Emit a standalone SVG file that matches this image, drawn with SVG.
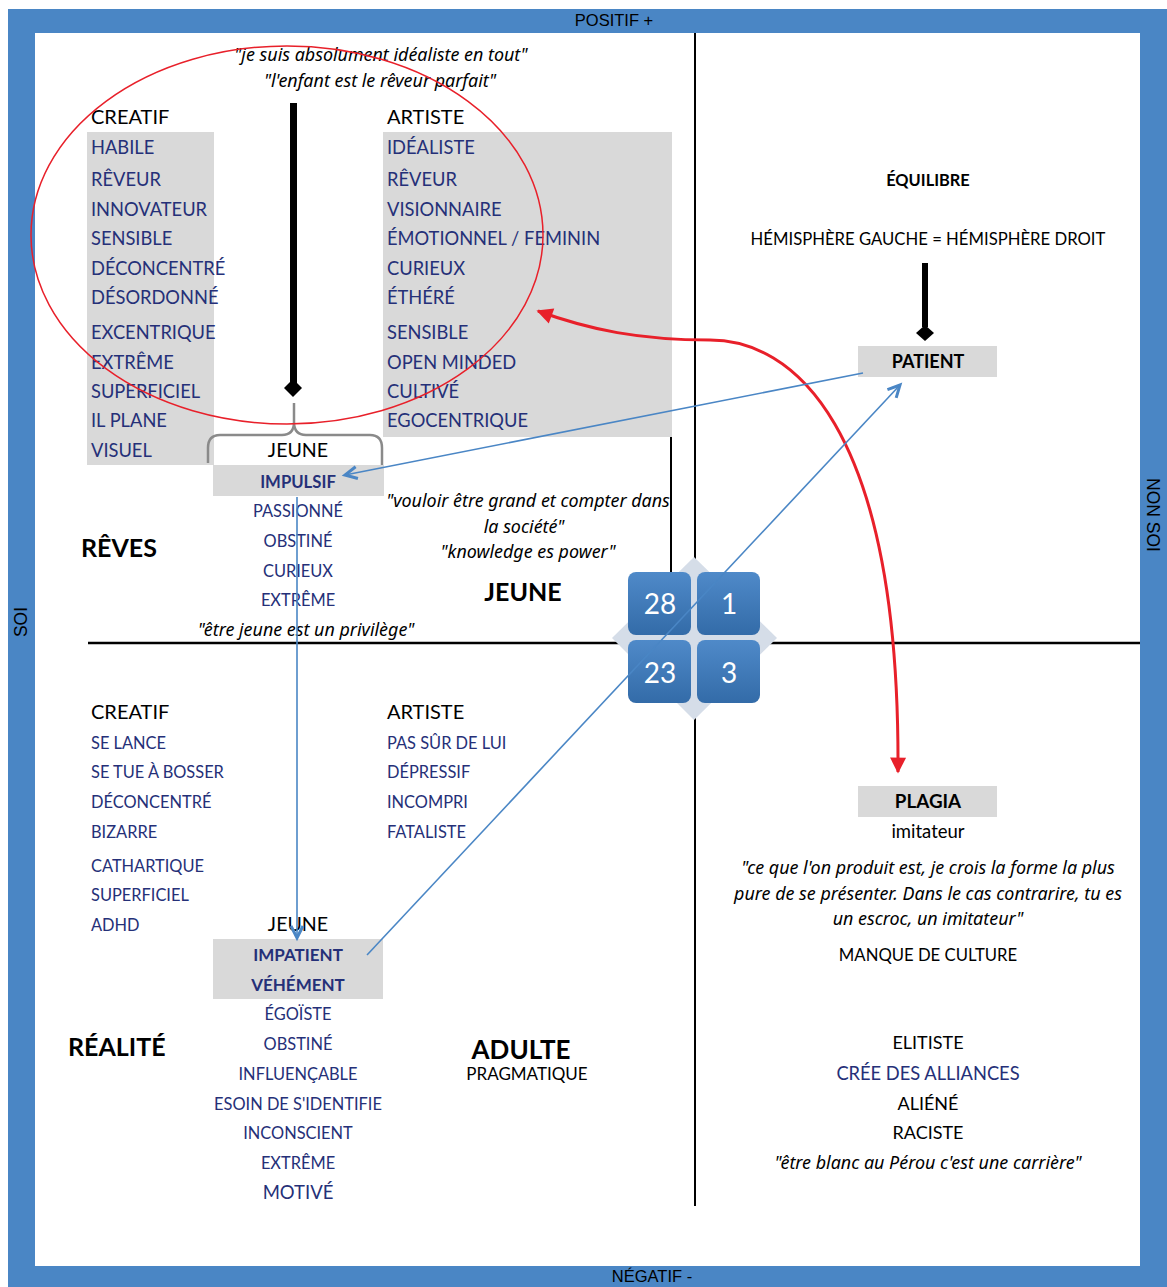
<svg xmlns="http://www.w3.org/2000/svg" width="1167" height="1287" viewBox="0 0 1167 1287">
<style>
text{font-family:Lato,"Open Sans",sans-serif}
.l{font-size:18.3px;fill:#253078}
.s{font-size:16.4px;fill:#253078}
.k{font-size:18px;fill:#000}
.h{font-size:20px;fill:#000}
.it{font-family:"Noto Sans","Open Sans",sans-serif;font-style:italic;font-size:17.9px;fill:#000}
.b{font-weight:bold}
.c{text-anchor:middle}
.big{font-size:25px;font-weight:bold;fill:#000}
.ax{font-family:"Liberation Sans",Arial,sans-serif;font-size:16.5px;fill:#000}
.gr{fill:#d9d9d9}
.tn{font-size:28px;fill:#fff;text-anchor:middle}
</style>
<defs>
<marker id="ab" viewBox="0 0 16 16" refX="14" refY="8" markerWidth="16" markerHeight="16" markerUnits="userSpaceOnUse" orient="auto" overflow="visible">
<path d="M2,2 L14,8 L2,14" fill="none" stroke="#4a86c5" stroke-width="3" stroke-linejoin="miter"/>
</marker>
<marker id="ar" viewBox="0 0 10 10" refX="9" refY="5" markerWidth="18" markerHeight="16" markerUnits="userSpaceOnUse" orient="auto-start-reverse" overflow="visible">
<path d="M0,0 L10,5 L0,10 Z" fill="#e8202a"/>
</marker>
<linearGradient id="tg" x1="0" y1="0" x2="0" y2="1">
<stop offset="0" stop-color="#4f8ac9"/>
<stop offset="1" stop-color="#336ba8"/>
</linearGradient>
</defs>

<g id="frame">
<rect x="8" y="9" width="1159" height="1278" fill="#4a86c5"/>
<rect x="35" y="33" width="1105" height="1233" fill="#fff"/>
<text class="ax c" x="614" y="26">POSITIF +</text>
<text class="ax c" x="652" y="1282">NÉGATIF -</text>
<text class="ax c" style="font-size:17.5px" transform="translate(27,622) rotate(-90)">SOI</text>
<text class="ax c" style="font-size:17.5px" transform="translate(1147,515) rotate(90)">NON SOI</text>
</g>

<g id="gray-boxes">
<rect class="gr" x="87" y="132" width="127" height="333"/>
<rect class="gr" x="383" y="132" width="289" height="305"/>
<rect class="gr" x="213" y="465" width="171" height="31"/>
<rect class="gr" x="858" y="346" width="139" height="31"/>
<rect class="gr" x="858" y="786" width="139" height="31"/>
<rect class="gr" x="213" y="939" width="170" height="60"/>
</g>

<g id="axes" stroke="#000">
<line x1="695" y1="33" x2="695" y2="1206" stroke-width="2"/>
<line x1="88" y1="643" x2="1140" y2="643" stroke-width="2.5"/>
<line x1="671" y1="437" x2="671" y2="575" stroke-width="2"/>
</g>

<g id="quote-top">
<text class="it c" x="381" y="61">"je suis absolument idéaliste en tout"</text>
<text class="it c" x="380" y="87">"l'enfant est le rêveur parfait"</text>
</g>

<g id="creatif-top">
<text class="h" x="91" y="124">CREATIF</text>
<text class="l" x="91" y="154">HABILE</text>
<text class="l" x="91" y="186">RÊVEUR</text>
<text class="l" x="91" y="216">INNOVATEUR</text>
<text class="l" x="91" y="245">SENSIBLE</text>
<text class="l" x="91" y="275">DÉCONCENTRÉ</text>
<text class="l" x="91" y="304">DÉSORDONNÉ</text>
<text class="l" x="91" y="339">EXCENTRIQUE</text>
<text class="l" x="91" y="369">EXTRÊME</text>
<text class="l" x="91" y="398">SUPERFICIEL</text>
<text class="l" x="91" y="427">IL PLANE</text>
<text class="l" x="91" y="457">VISUEL</text>
</g>

<g id="artiste-top">
<text class="h" x="387" y="124">ARTISTE</text>
<text class="l" x="387" y="154">IDÉALISTE</text>
<text class="l" x="387" y="186">RÊVEUR</text>
<text class="l" x="387" y="216">VISIONNAIRE</text>
<text class="l" x="387" y="245">ÉMOTIONNEL / FEMININ</text>
<text class="l" x="387" y="275">CURIEUX</text>
<text class="l" x="387" y="304">ÉTHÉRÉ</text>
<text class="l" x="387" y="339">SENSIBLE</text>
<text class="l" x="387" y="369">OPEN MINDED</text>
<text class="l" x="387" y="398">CULTIVÉ</text>
<text class="l" x="387" y="427">EGOCENTRIQUE</text>
</g>

<g id="jeune-top">
<path d="M294,403 L294,422 Q294,435 282,435 L220,435 Q208,435 208,448 L208,463 M294,422 Q294,435 306,435 L370,435 Q382,435 382,448 L382,465" fill="none" stroke="#8a8a8a" stroke-width="2.5"/>
<text class="k c" x="298" y="457" style="font-size:19.6px">JEUNE</text>
<text class="s b c" x="298" y="488" style="font-size:16.7px">IMPULSIF</text>
<text class="s c" x="298" y="517">PASSIONNÉ</text>
<text class="s c" x="298" y="547">OBSTINÉ</text>
<text class="s c" x="298" y="577">CURIEUX</text>
<text class="s c" x="298" y="606">EXTRÊME</text>
<text class="it c" x="306" y="636">"être jeune est un privilège"</text>
</g>

<g id="reves">
<text class="big" x="81" y="557">RÊVES</text>
</g>

<g id="jeune-quadrant">
<text class="it c" x="528" y="507">"vouloir être grand et compter dans</text>
<text class="it c" x="524" y="533">la société"</text>
<text class="it c" x="528" y="558">"knowledge es power"</text>
<text class="big c" x="523" y="601">JEUNE</text>
</g>

<g id="equilibre">
<text class="k b c" x="928" y="186" style="font-size:16.4px">ÉQUILIBRE</text>
<text class="k c" x="928" y="245" style="font-size:16.7px">HÉMISPHÈRE GAUCHE = HÉMISPHÈRE DROIT</text>
</g>

<g id="patient">
<text class="k b c" x="928" y="368">PATIENT</text>
</g>

<g id="plagia">
<text class="k b c" x="928" y="808" style="font-size:18.8px">PLAGIA</text>
<text class="k c" x="928" y="838" style="font-size:18.5px">imitateur</text>
<text class="it c" x="928" y="874">"ce que l'on produit est, je crois la forme la plus</text>
<text class="it c" x="928" y="900">pure de se présenter. Dans le cas contrarire, tu es</text>
<text class="it c" x="928" y="925">un escroc, un imitateur"</text>
<text class="k c" x="928" y="961" style="font-size:16.7px">MANQUE DE CULTURE</text>
</g>

<g id="elitiste">
<text class="k c" x="928" y="1049">ELITISTE</text>
<text class="l c" x="928" y="1080">CRÉE DES ALLIANCES</text>
<text class="k c" x="928" y="1110">ALIÉNÉ</text>
<text class="k c" x="928" y="1139">RACISTE</text>
<text class="it c" x="928" y="1169">"être blanc au Pérou c'est une carrière"</text>
</g>

<g id="creatif-bottom">
<text class="h" x="91" y="719">CREATIF</text>
<text class="s" x="91" y="749">SE LANCE</text>
<text class="s" x="91" y="778">SE TUE À BOSSER</text>
<text class="s" x="91" y="808">DÉCONCENTRÉ</text>
<text class="s" x="91" y="838">BIZARRE</text>
<text class="s" x="91" y="872">CATHARTIQUE</text>
<text class="s" x="91" y="901">SUPERFICIEL</text>
<text class="s" x="91" y="931">ADHD</text>
</g>

<g id="artiste-bottom">
<text class="h" x="387" y="719">ARTISTE</text>
<text class="s" x="387" y="749">PAS SÛR DE LUI</text>
<text class="s" x="387" y="778">DÉPRESSIF</text>
<text class="s" x="387" y="808">INCOMPRI</text>
<text class="s" x="387" y="838">FATALISTE</text>
</g>

<g id="jeune-bottom">
<text class="k c" x="298" y="931" style="font-size:19.6px">JEUNE</text>
<text class="s b c" x="298" y="961" style="font-size:17px">IMPATIENT</text>
<text class="s b c" x="298" y="991" style="font-size:17px">VÉHÉMENT</text>
<text class="s c" x="298" y="1020">ÉGOÏSTE</text>
<text class="s c" x="298" y="1050">OBSTINÉ</text>
<text class="s c" x="298" y="1080">INFLUENÇABLE</text>
<text class="s c" x="298" y="1110">ESOIN DE S'IDENTIFIE</text>
<text class="s c" x="298" y="1139">INCONSCIENT</text>
<text class="s c" x="298" y="1169">EXTRÊME</text>
<text class="s c" x="298" y="1199" style="font-size:18.5px">MOTIVÉ</text>
</g>

<g id="realite">
<text class="big" x="68" y="1056">RÉALITÉ</text>
</g>

<g id="adulte">
<text class="big c" x="521" y="1059" style="font-size:26px">ADULTE</text>
<text class="k c" x="527" y="1080" style="font-size:17px">PRAGMATIQUE</text>
</g>

<g id="tiles">
<polygon points="694,557 777,638 694,720 612,638" fill="#d5dde8"/>
<rect x="628" y="572" width="63" height="63" rx="8" fill="url(#tg)"/>
<rect x="697" y="572" width="63" height="63" rx="8" fill="url(#tg)"/>
<rect x="628" y="640" width="63" height="63" rx="8" fill="url(#tg)"/>
<rect x="697" y="640" width="63" height="63" rx="8" fill="url(#tg)"/>
<text class="tn" x="660" y="614">28</text>
<text class="tn" x="729" y="614">1</text>
<text class="tn" x="660" y="683">23</text>
<text class="tn" x="729" y="683">3</text>
</g>

<g id="connectors">
<ellipse cx="287" cy="235" rx="256" ry="189" fill="none" stroke="#e8202a" stroke-width="1.5"/>
<rect x="290" y="103" width="7" height="280" fill="#000"/>
<polygon points="293,379 302,388 293,397 284,388" fill="#000"/>
<rect x="922" y="263" width="6" height="64" fill="#000"/>
<polygon points="925,325 934,333 925,341 916,333" fill="#000"/>
<path d="M538,311 C590,330 640,340 710,340 C790,340 900,420 898,772" fill="none" stroke="#e8202a" stroke-width="3" marker-start="url(#ar)" marker-end="url(#ar)"/>
<line x1="863" y1="373" x2="345" y2="475" stroke="#4a86c5" stroke-width="1.6" marker-end="url(#ab)"/>
<line x1="367" y1="955" x2="900" y2="385" stroke="#4a86c5" stroke-width="1.6" marker-end="url(#ab)"/>
<line x1="297" y1="497" x2="297" y2="938" stroke="#4a86c5" stroke-width="1.6" marker-end="url(#ab)"/>
</g>
</svg>
